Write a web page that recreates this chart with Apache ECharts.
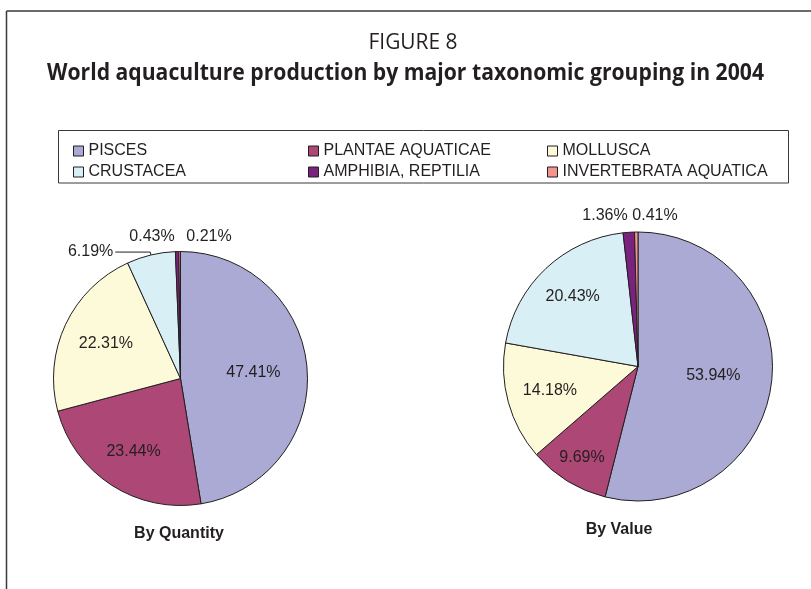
<!DOCTYPE html>
<html>
<head>
<meta charset="utf-8">
<script src="https://cdn.jsdelivr.net/npm/echarts@6/dist/echarts.min.js"></script>
<style>
  html, body { margin: 0; padding: 0; background: #fff; }
  #main { width: 811px; height: 589px; }
</style>
</head>
<body>
<div id="main"></div>
<script>
// ---- data ----
const categories = ['PISCES', 'PLANTAE AQUATICAE', 'MOLLUSCA', 'CRUSTACEA', 'AMPHIBIA, REPTILIA', 'INVERTEBRATA AQUATICA'];
const quantityShare = [47.41, 23.44, 22.31, 6.19, 0.43, 0.21];
const valueShare = [53.94, 9.69, 14.18, 20.43, 1.36, 0.41];
const pieTitles = ['By Quantity', 'By Value'];
const figureLabel = 'FIGURE 8';
const figureTitle = 'World aquaculture production by major taxonomic grouping in 2004';

// ---- styles / layout ----
const colors = ['#aaaad4', '#ad4776', '#fdfad9', '#d9eff6', '#7a2280', '#f4948f'];
const textColor = '#231f20';
const labelFont = '"Liberation Sans", Arial, sans-serif';
const titleFont = '"Open Sans", "Liberation Sans", sans-serif';

const pieLayout = [
  { center: [180.5, 378.5], r: 127, k: [0.55, 0.65, 0.62, 0.5, 0.5, 0.5],
    line: [3], top: { 4: [-28.5, -15], 5: [28.5, -15] }, sub: [179, 534] },
  { center: [638, 366.5], r: 134.5, k: [0.54, 0.76, 0.65, 0.68, 0.5, 0.5],
    line: [], top: { 4: [-33, -16], 5: [17, -16] }, sub: [619, 530] }
];

function measure(text, font) {
  const c = document.createElement('canvas').getContext('2d');
  c.font = font;
  return c.measureText(text).width;
}
const titleW = measure(figureTitle, 'bold 23px "Open Sans"');
const titleScale = titleW > 0 ? 717 / titleW : 1;
const figW = measure(figureLabel, '22px "Open Sans"');
const figScale = figW > 0 ? 89 / figW : 1;

function buildData(values, li) {
  const L = pieLayout[li];
  return values.map((v, i) => {
    const item = { name: categories[i], value: v, itemStyle: { color: colors[i] } };
    if (L.line.indexOf(i) >= 0) {
      item.label = { position: 'outside', distanceToLabelLine: 2 };
      item.labelLine = { show: true, length: 3, length2: 35, lineStyle: { color: textColor, width: 1 } };
    } else if (L.top[i]) {
      item.label = { position: 'outside' };
      item.labelLine = { show: false };
    }
    return item;
  });
}

function makeLabelLayout(li) {
  const L = pieLayout[li];
  return function (p) {
    const i = p.dataIndex;
    const cx = L.center[0], cy = L.center[1];
    if (L.top[i]) {
      return { x: cx + L.top[i][0], y: cy - L.r + L.top[i][1], align: 'center', verticalAlign: 'middle' };
    }
    if (L.line.indexOf(i) >= 0) return {};
    const lr = p.labelRect;
    const lx = lr.x + lr.width / 2, ly = lr.y + lr.height / 2;
    const f = L.k[i] / 0.5 - 1;
    return { dx: (lx - cx) * f, dy: (ly - cy) * f };
  };
}

function pieSeries(values, li) {
  const L = pieLayout[li];
  return {
    type: 'pie',
    center: L.center,
    radius: [0, L.r],
    startAngle: 90,
    clockwise: true,
    avoidLabelOverlap: false,
    animation: false,
    silent: true,
    itemStyle: { borderColor: textColor, borderWidth: 1 },
    label: {
      show: true, position: 'inside', color: textColor, fontSize: 16, fontFamily: labelFont,
      formatter: p => p.value.toFixed(2) + '%'
    },
    labelLine: { show: false },
    labelLayout: makeLabelLayout(li),
    emphasis: { disabled: true },
    data: buildData(values, li)
  };
}

function legendCol(names, left) {
  return {
    orient: 'vertical', left: left, top: 138, itemWidth: 10, itemHeight: 10, itemGap: 5,
    icon: 'rect', selectedMode: false,
    itemStyle: { borderColor: textColor, borderWidth: 1 },
    textStyle: { color: textColor, fontSize: 16, fontFamily: labelFont, lineHeight: 16, padding: [0, 0, 0, 0] },
    data: names
  };
}

const chart = echarts.init(document.getElementById('main'), null, { renderer: 'canvas' });
chart.setOption({
  backgroundColor: '#fff',
  animation: false,
  color: colors,
  legend: [
    legendCol([categories[0], categories[3]], 68),
    legendCol([categories[1], categories[4]], 303),
    legendCol([categories[2], categories[5]], 542)
  ],
  series: [pieSeries(quantityShare, 0), pieSeries(valueShare, 1)],
  graphic: [
    { type: 'line', shape: { x1: 6.5, y1: 11, x2: 811, y2: 11 }, style: { stroke: '#3a3a3a', lineWidth: 1.5 } },
    { type: 'line', shape: { x1: 6.5, y1: 11, x2: 6.5, y2: 589 }, style: { stroke: '#3a3a3a', lineWidth: 1.5 } },
    { type: 'rect', shape: { x: 58.5, y: 130.5, width: 730, height: 52.5 }, style: { fill: 'none', stroke: '#3a3a3a', lineWidth: 1 } },
    { type: 'text', x: 413, y: 43, scaleX: figScale,
      style: { text: figureLabel, fontFamily: titleFont, fontSize: 22, fill: textColor, align: 'center', verticalAlign: 'middle' } },
    { type: 'text', x: 405.5, y: 73, scaleX: titleScale,
      style: { text: figureTitle, fontFamily: titleFont, fontSize: 23, fontWeight: 'bold', fill: textColor, align: 'center', verticalAlign: 'middle' } },
    { type: 'text', x: pieLayout[0].sub[0], y: pieLayout[0].sub[1],
      style: { text: pieTitles[0], fontFamily: labelFont, fontSize: 16, fontWeight: 'bold', fill: textColor, align: 'center', verticalAlign: 'middle' } },
    { type: 'text', x: pieLayout[1].sub[0], y: pieLayout[1].sub[1],
      style: { text: pieTitles[1], fontFamily: labelFont, fontSize: 16, fontWeight: 'bold', fill: textColor, align: 'center', verticalAlign: 'middle' } }
  ]
});
</script>
</body>
</html>
